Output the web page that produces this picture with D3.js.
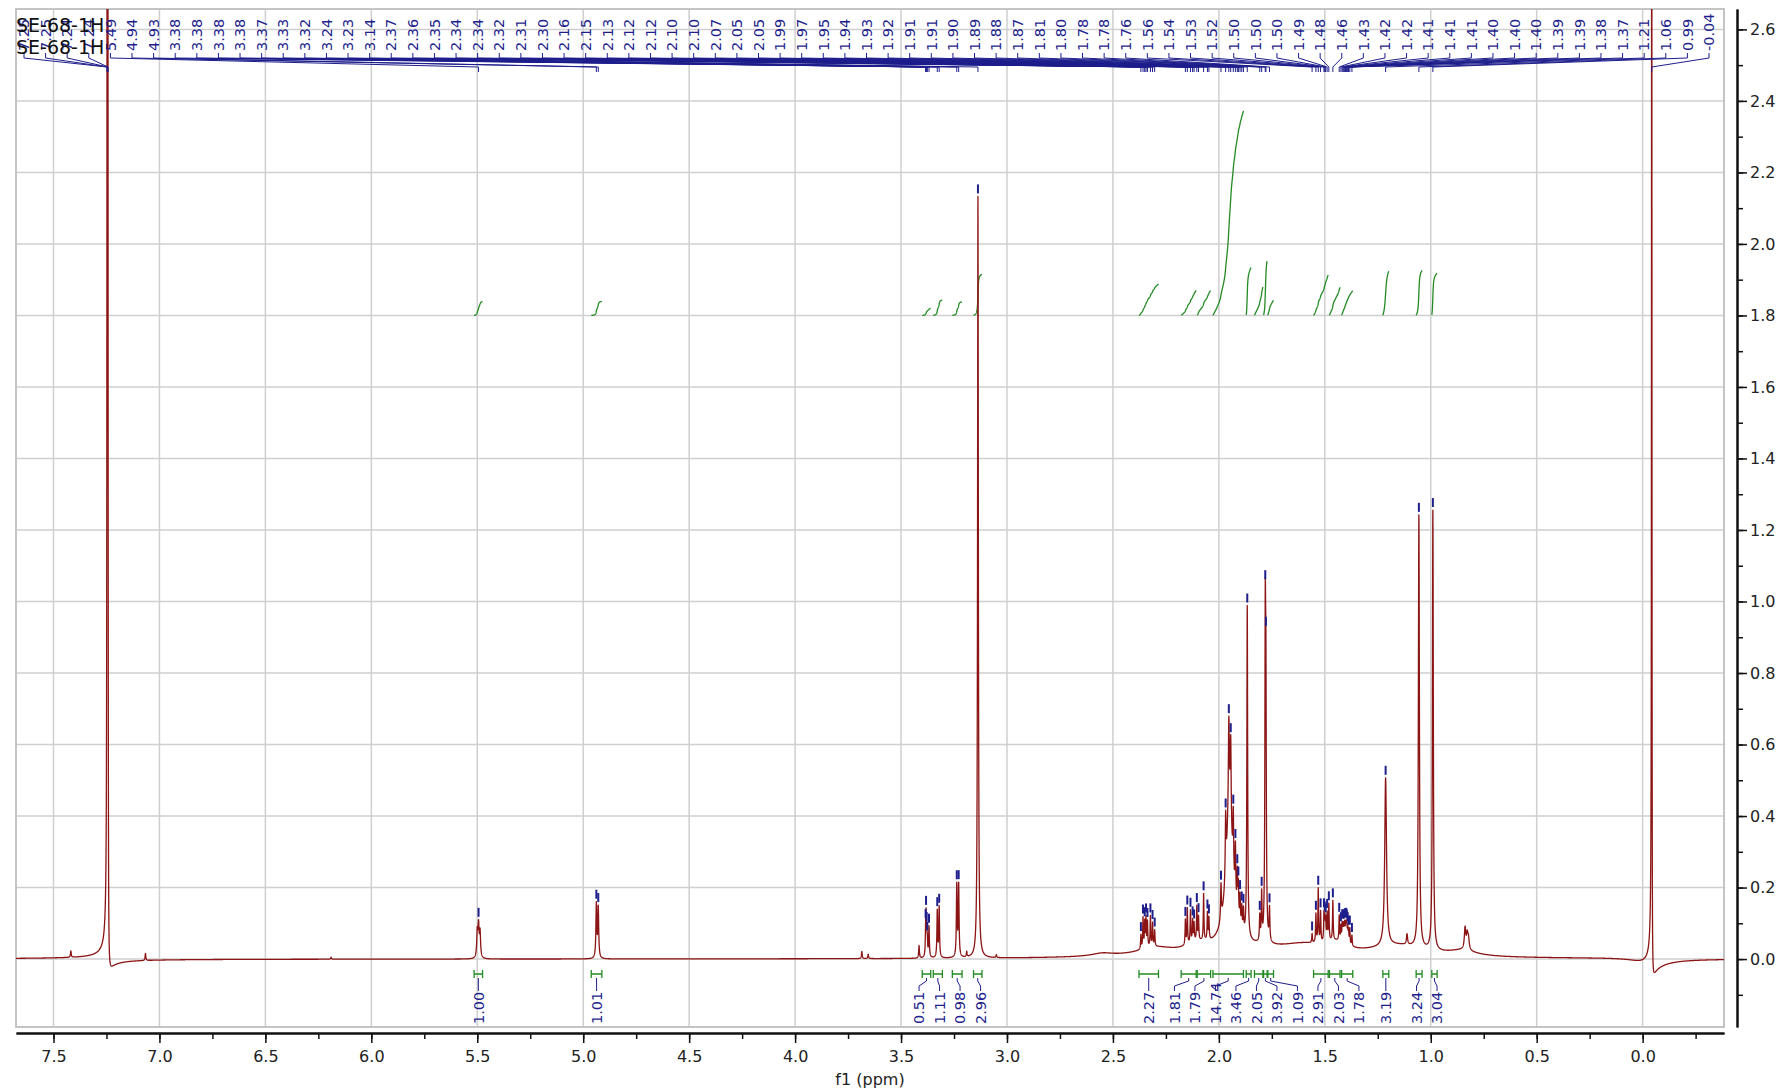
<!DOCTYPE html>
<html>
<head>
<meta charset="utf-8">
<script src="https://cdnjs.cloudflare.com/ajax/libs/d3/7.8.5/d3.min.js"></script>
<style>
body { margin: 0; background: #fff; }
svg { display: block; font-family: "DejaVu Sans", Verdana, sans-serif; }
</style>
</head>
<body>
<div id="chart"></div>
<script>
const title = 'SE-68-1H';

// labelled peaks (ppm, height, half width in ppm)
const peakPpm = [7.247, 7.246, 7.244, 7.243,
    5.494, 4.938, 4.929,
    3.384, 3.382, 3.379, 3.376, 3.368, 3.329, 3.320, 3.237, 3.228, 3.137,
    2.368, 2.358, 2.350, 2.344, 2.337, 2.323, 2.313, 2.303,
    2.158, 2.149, 2.134, 2.124, 2.117, 2.104, 2.096, 2.072, 2.054, 2.047,
    1.990, 1.968, 1.953, 1.944, 1.932, 1.922, 1.913, 1.908, 1.900, 1.892, 1.884,
    1.866, 1.807, 1.798, 1.781, 1.778, 1.761,
    1.560, 1.542, 1.531, 1.520, 1.504, 1.500, 1.496, 1.489, 1.481, 1.462,
    1.432, 1.424, 1.418, 1.414, 1.410, 1.406, 1.402, 1.399, 1.396, 1.392, 1.388, 1.382, 1.372,
    1.213, 1.056, 0.990, -0.043];
const peakHeight = [2.0, 2.0, 2.0, 2.0,
    0.085, 0.15, 0.14,
    0.05, 0.10, 0.05, 0.04, 0.085, 0.13, 0.14, 0.20, 0.20, 2.13,
    0.04, 0.085, 0.07, 0.08, 0.07, 0.085, 0.065, 0.045,
    0.07, 0.10, 0.09, 0.06, 0.05, 0.095, 0.065, 0.13, 0.075, 0.06,
    0.10, 0.17, 0.24, 0.21, 0.17, 0.15, 0.11, 0.09, 0.08, 0.06, 0.06,
    0.93, 0.07, 0.13, 0.80, 0.60, 0.09,
    0.025, 0.08, 0.15, 0.085, 0.075, 0.055, 0.055, 0.075, 0.10, 0.11,
    0.07, 0.04, 0.045, 0.04, 0.04, 0.045, 0.04, 0.04, 0.04, 0.04, 0.035, 0.045, 0.03,
    0.47, 1.21, 1.23, 4.0];
const peakWidth = [0.001, 0.001, 0.001, 0.001,
    0.003, 0.0025, 0.0025,
    0.0018, 0.0018, 0.0018, 0.0018, 0.002, 0.002, 0.002, 0.0022, 0.0022, 0.0022,
    0.0018, 0.0018, 0.0018, 0.0018, 0.0018, 0.0018, 0.0018, 0.0018,
    0.0018, 0.0018, 0.0018, 0.0018, 0.0018, 0.0018, 0.0018, 0.0018, 0.0018, 0.0018,
    0.0022, 0.0022, 0.0025, 0.0022, 0.0022, 0.0022, 0.002, 0.002, 0.002, 0.002, 0.002,
    0.0022, 0.002, 0.002, 0.0022, 0.0022, 0.002,
    0.0018, 0.0018, 0.0018, 0.0018, 0.0018, 0.0018, 0.0018, 0.0018, 0.0018, 0.0018,
    0.0018, 0.0018, 0.0018, 0.0018, 0.0018, 0.0018, 0.0018, 0.0018, 0.0018, 0.0018, 0.0018, 0.0018, 0.0018,
    0.005, 0.0028, 0.0025, 0.001];
// phase error of the solvent and reference lines
const phasedIndex = [0, 1, 2, 3, 78];
const phasedAngle = [0.1, 0.1, 0.1, 0.1, 0.15];

// unlabelled lines and broad humps (ppm, height, half width)
const extraPpm = [7.418, 7.066, 5.500, 5.487, 3.685, 3.655, 3.415, 3.190, 3.050, 6.190, 1.112, 0.838, 0.828, 0.822,
    1.950, 1.950, 1.850, 2.300, 2.100, 1.450, 1.600, 1.150, 0.850, 2.550, -0.020];
const extraHeight = [0.018, 0.02, 0.07, 0.07, 0.02, 0.012, 0.035, 0.015, 0.008, 0.006, 0.03, 0.06, 0.04, 0.03,
    0.28, 0.12, 0.025, 0.02, 0.02, 0.025, 0.02, 0.03, 0.015, 0.008, -0.02];
const extraWidth = [0.002, 0.002, 0.003, 0.003, 0.002, 0.002, 0.002, 0.002, 0.002, 0.002, 0.003, 0.004, 0.004, 0.004,
    0.015, 0.03, 0.35, 0.1, 0.06, 0.06, 0.12, 0.15, 0.08, 0.06, 0.08];

// integrals
const integralFrom = [5.515, 4.962, 3.400, 3.348, 3.258, 3.158, 2.377, 2.178, 2.102, 2.028,
    1.871, 1.832, 1.789, 1.769, 1.553, 1.478, 1.421, 1.226, 1.069, 0.995];
const integralTo = [5.475, 4.912, 3.360, 3.305, 3.212, 3.118, 2.285, 2.107, 2.039, 1.884,
    1.848, 1.792, 1.772, 1.742, 1.484, 1.428, 1.368, 1.198, 1.041, 0.970];
const integralValue = [1.00, 1.01, 0.51, 1.11, 0.98, 2.96, 2.27, 1.81, 1.79, 14.74,
    3.46, 2.05, 3.92, 1.09, 2.91, 2.03, 1.78, 3.19, 3.24, 3.04];

const xTicks = d3.range(0, 7.51, 0.5);
const xMinorTicks = d3.range(-0.25, 7.51, 0.25);
const yTicks = d3.range(0, 2.61, 0.2);
const yMinorTicks = d3.range(-0.1, 2.65, 0.1);

const colors = {
    spectrum: '#8c1414',
    peak: '#1e1e8c',
    integral: '#238b23',
    grid: '#cfcfcf',
    frame: '#c4c4c4',
    axis: '#111111'
};

const width = 1780;
const height = 1092;
const plot = {left: 16, right: 1724, top: 9, bottom: 1027};

const x = d3.scaleLinear().domain([7.677, -0.384]).range([plot.left, plot.right]);
const y = d3.scaleLinear().domain([-0.190, 2.657]).range([plot.bottom, plot.top]);

const spectrumAt = function (ppm) {
    let s = 0;
    for (let i = 0; i < peakPpm.length; i++) {
        const d = ppm - peakPpm[i];
        const w = peakWidth[i];
        const k = phasedIndex.indexOf(i);
        const phi = k > -1 ? phasedAngle[k] : 0;
        s += peakHeight[i] * (w * w * Math.cos(phi) + w * d * Math.sin(phi)) / (d * d + w * w);
    }
    for (let i = 0; i < extraPpm.length; i++) {
        const d = ppm - extraPpm[i];
        const w = extraWidth[i];
        s += extraHeight[i] * w * w / (d * d + w * w);
    }
    return s;
};

// sample the spectrum finely so that the narrow lines keep their tops
const step = 0.0004;
const samples = d3.range(x.domain()[0], x.domain()[1], -step).concat(peakPpm)
    .sort(function (a, b) { return b - a; })
    .map(function (p) { return [p, spectrumAt(p)]; });

const svg = d3.select('#chart').append('svg')
    .attr('width', width)
    .attr('height', height);

svg.append('defs').append('clipPath').attr('id', 'plotclip')
    .append('rect')
    .attr('x', plot.left).attr('y', plot.top)
    .attr('width', plot.right - plot.left).attr('height', plot.bottom - plot.top);

// grid
svg.append('g').selectAll('line')
    .data(xTicks)
    .enter().append('line')
    .attr('x1', function (d) { return x(d); })
    .attr('x2', function (d) { return x(d); })
    .attr('y1', plot.top).attr('y2', plot.bottom)
    .attr('stroke', colors.grid).attr('stroke-width', 1.5);

svg.append('g').selectAll('line')
    .data(yTicks)
    .enter().append('line')
    .attr('x1', plot.left).attr('x2', plot.right)
    .attr('y1', function (d) { return y(d); })
    .attr('y2', function (d) { return y(d); })
    .attr('stroke', colors.grid).attr('stroke-width', 1.5);

svg.append('rect')
    .attr('x', plot.left).attr('y', plot.top)
    .attr('width', plot.right - plot.left).attr('height', plot.bottom - plot.top)
    .attr('fill', 'none').attr('stroke', colors.frame).attr('stroke-width', 2);

// integral curves
const integralScale = 0.0388;
const integralBase = 1.8;
const integralCurve = function (i) {
    const pts = d3.range(integralFrom[i], integralTo[i] - step / 2, -step);
    let acc = 0;
    const cum = pts.map(function (p) { acc += spectrumAt(p); return acc; });
    return pts.map(function (p, k) {
        return [p, integralBase + integralValue[i] * integralScale * cum[k] / acc];
    });
};

const line = d3.line()
    .x(function (d) { return x(d[0]); })
    .y(function (d) { return y(d[1]); });

svg.append('g').selectAll('path')
    .data(d3.range(integralValue.length))
    .enter().append('path')
    .attr('d', function (i) { return line(integralCurve(i)); })
    .attr('fill', 'none')
    .attr('stroke', colors.integral)
    .attr('stroke-width', 1.3);

// spectrum
svg.append('path')
    .datum(samples)
    .attr('clip-path', 'url(#plotclip)')
    .attr('d', line)
    .attr('fill', 'none')
    .attr('stroke', colors.spectrum)
    .attr('stroke-width', 1.3)
    .attr('stroke-linejoin', 'round');

// peak markers above the tops
const peakTop = peakPpm.map(function (p) { return spectrumAt(p); });
svg.append('g').selectAll('line')
    .data(d3.range(peakPpm.length).filter(function (i) { return peakTop[i] < 2.55; }))
    .enter().append('line')
    .attr('x1', function (i) { return x(peakPpm[i]); })
    .attr('x2', function (i) { return x(peakPpm[i]); })
    .attr('y1', function (i) { return y(peakTop[i]) - 3; })
    .attr('y2', function (i) { return y(peakTop[i]) - 12; })
    .attr('stroke', colors.peak)
    .attr('stroke-width', 2);

// peak labels, spread over the top strip
const labelX = d3.scalePoint()
    .domain(d3.range(peakPpm.length))
    .range([plot.left + 8, plot.right - 15]);

const topLabels = svg.append('g');
topLabels.selectAll('path')
    .data(d3.range(peakPpm.length))
    .enter().append('path')
    .attr('d', function (i) {
        const lx = labelX(i);
        const px = x(peakPpm[i]);
        return 'M' + lx + ',53V58L' + px + ',67V72';
    })
    .attr('fill', 'none')
    .attr('stroke', colors.peak)
    .attr('stroke-width', 1);

topLabels.selectAll('text')
    .data(d3.range(peakPpm.length))
    .enter().append('text')
    .attr('transform', function (i) { return 'translate(' + labelX(i) + ',51) rotate(-90)'; })
    .attr('dy', '0.36em')
    .attr('font-size', 14.5)
    .attr('fill', colors.peak)
    .text(function (i) { return peakPpm[i].toFixed(2); });

// integral brackets and labels
const spreadLabels = function (xs, gap) {
    const order = d3.range(xs.length).sort(function (a, b) { return xs[a] - xs[b]; });
    const groups = [];
    order.forEach(function (i) {
        groups.push({ids: [i], start: xs[i]});
        while (groups.length > 1) {
            const a = groups[groups.length - 2];
            const b = groups[groups.length - 1];
            if (a.start + a.ids.length * gap <= b.start) break;
            const ids = a.ids.concat(b.ids);
            const start = d3.mean(ids, function (id, k) { return xs[id] - k * gap; });
            groups.splice(-2, 2, {ids: ids, start: start});
        }
    });
    const out = [];
    groups.forEach(function (g) {
        g.ids.forEach(function (id, k) { out[id] = g.start + k * gap; });
    });
    return out;
};

const integralMid = integralValue.map(function (v, i) {
    return (x(integralFrom[i]) + x(integralTo[i])) / 2;
});
const integralLabelX = spreadLabels(integralMid, 20.5);
const bracketY = 974;

const brackets = svg.append('g');
brackets.selectAll('path.bracket')
    .data(d3.range(integralValue.length))
    .enter().append('path')
    .attr('class', 'bracket')
    .attr('d', function (i) {
        const a = x(integralFrom[i]);
        const b = x(integralTo[i]);
        return 'M' + a + ',' + (bracketY - 4) + 'V' + (bracketY + 4) +
            'M' + a + ',' + bracketY + 'H' + b +
            'M' + b + ',' + (bracketY - 4) + 'V' + (bracketY + 4);
    })
    .attr('fill', 'none')
    .attr('stroke', colors.integral)
    .attr('stroke-width', 1.3);

brackets.selectAll('path.link')
    .data(d3.range(integralValue.length))
    .enter().append('path')
    .attr('class', 'link')
    .attr('d', function (i) {
        return 'M' + integralMid[i] + ',' + (bracketY + 4) + 'V' + (bracketY + 7) +
            'L' + integralLabelX[i] + ',' + (bracketY + 12) + 'V' + (bracketY + 17);
    })
    .attr('fill', 'none')
    .attr('stroke', colors.peak)
    .attr('stroke-width', 1);

brackets.selectAll('text')
    .data(d3.range(integralValue.length))
    .enter().append('text')
    .attr('transform', function (i) {
        return 'translate(' + integralLabelX[i] + ',1024) rotate(-90)';
    })
    .attr('dy', '0.36em')
    .attr('font-size', 14.5)
    .attr('fill', colors.peak)
    .text(function (i) { return integralValue[i].toFixed(2); });

// axes
const xAxisY = 1033;
svg.append('g')
    .attr('transform', 'translate(0,' + xAxisY + ')')
    .call(d3.axisBottom(x).tickValues(xTicks).tickSize(10).tickSizeOuter(0).tickPadding(8)
        .tickFormat(d3.format('.1f')));
svg.append('g')
    .attr('transform', 'translate(0,' + xAxisY + ')')
    .call(d3.axisBottom(x).tickValues(xMinorTicks).tickSize(6).tickSizeOuter(0).tickFormat(''));

const yAxisX = 1737;
svg.append('g')
    .attr('transform', 'translate(' + yAxisX + ',0)')
    .call(d3.axisRight(y).tickValues(yTicks).tickSize(10).tickSizeOuter(0).tickPadding(3)
        .tickFormat(d3.format('.1f')));
svg.append('g')
    .attr('transform', 'translate(' + yAxisX + ',0)')
    .call(d3.axisRight(y).tickValues(yMinorTicks).tickSize(6).tickSizeOuter(0).tickFormat(''));

svg.selectAll('.domain').attr('stroke', colors.axis).attr('stroke-width', 2);
svg.selectAll('.tick line').attr('stroke', colors.axis).attr('stroke-width', 1.5);
svg.selectAll('.tick text')
    .attr('font-family', '"DejaVu Sans", Verdana, sans-serif')
    .attr('font-size', 16)
    .attr('fill', '#222');

svg.append('text')
    .attr('x', (plot.left + plot.right) / 2)
    .attr('y', 1085)
    .attr('text-anchor', 'middle')
    .attr('font-size', 16)
    .attr('fill', '#222')
    .text('f1 (ppm)');

// title, printed twice like the source
[32, 54].forEach(function (ty) {
    svg.append('text')
        .attr('x', plot.left)
        .attr('y', ty)
        .attr('font-size', 19)
        .attr('fill', '#111')
        .text(title);
});
</script>
</body>
</html>
